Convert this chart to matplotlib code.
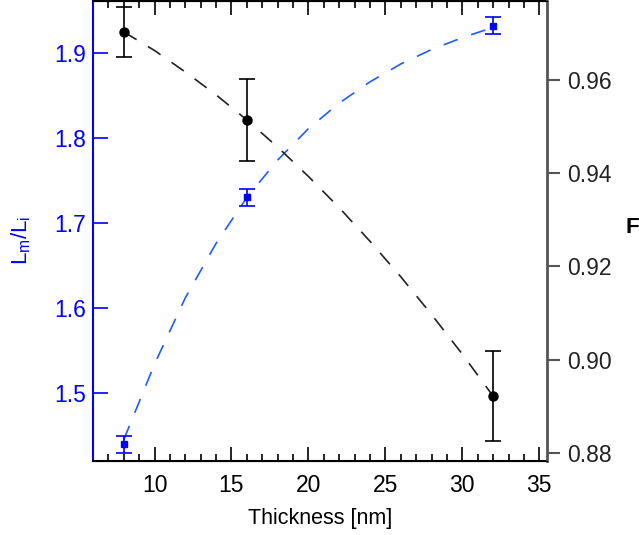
import matplotlib
matplotlib.use("Agg")
import matplotlib.pyplot as plt
from matplotlib.ticker import MultipleLocator

plt.rcParams["font.family"] = ["Liberation Sans", "DejaVu Sans"]
plt.rcParams["font.size"] = 16.5

# measured points
thickness = [8, 16, 32]
ratio = [1.44, 1.73, 1.932]
ratio_err = [0.010, 0.010, 0.010]
f_val = [0.9703, 0.9514, 0.8922]
f_err = [0.0053, 0.0088, 0.0096]

# dashed fit curves
fit_x = [8, 10, 12, 14, 16, 18, 20, 22, 24, 26, 28, 30, 32]
ratio_fit = [1.445, 1.534, 1.612, 1.676, 1.730, 1.774, 1.811, 1.841,
             1.866, 1.887, 1.904, 1.918, 1.930]
f_fit = [0.9703, 0.9663, 0.9617, 0.9568, 0.9514, 0.9456, 0.9393, 0.9326,
         0.9254, 0.9178, 0.9097, 0.9012, 0.8922]

blue_axis = "#0000ff"
blue_line = "#1f5cff"

fig = plt.figure(figsize=(6.39, 5.35), dpi=100)
ax = fig.add_axes([0.1455, 0.1383, 0.7105, 0.8597])
ax2 = ax.twinx()

ax.plot(fit_x, ratio_fit, color=blue_line, lw=1.2, dashes=(9, 8.5))
ax.errorbar(thickness, ratio, yerr=ratio_err, fmt="s", color=blue_axis,
            ms=4, capsize=6, elinewidth=1.2, capthick=1.2)

ax2.plot(fit_x, f_fit, color="#222222", lw=1.2, dashes=(9, 8))
ax2.errorbar(thickness, f_val, yerr=f_err, fmt="o", color="black",
             ms=6.5, capsize=6, elinewidth=1.2, capthick=1.2)

ax.set_xlim(6, 35.5)
ax.set_ylim(1.42, 1.961)
ax2.set_ylim(0.8783, 0.9769)

ax.xaxis.set_major_locator(MultipleLocator(5))
ax.xaxis.set_minor_locator(MultipleLocator(1))
ax.set_yticks([1.5, 1.6, 1.7, 1.8, 1.9])
ax2.set_yticks([0.88, 0.90, 0.92, 0.94, 0.96])
ax2.set_yticklabels(["0.88", "0.90", "0.92", "0.94", "0.96"])

ax.tick_params(axis="x", which="both", direction="in", top=True, pad=9)
ax.tick_params(axis="x", which="major", length=10, width=1.2)
ax.tick_params(axis="x", which="minor", length=5, width=1.2)
ax.tick_params(axis="y", direction="in", length=11, width=1.2,
               colors=blue_axis, pad=5)
ax2.tick_params(axis="y", direction="out", length=9.5, width=1.5,
                color="#555555", labelcolor="#222222", pad=5)

ax.spines["left"].set_color(blue_axis)
ax.spines["left"].set_linewidth(1.5)
ax.spines["bottom"].set_linewidth(1.5)
ax.spines["top"].set_linewidth(1.5)
ax2.spines["left"].set_visible(False)
ax2.spines["right"].set_color("#555555")
ax2.spines["right"].set_linewidth(2)
ax.spines["right"].set_visible(False)

ax.set_xlabel("Thickness [nm]", fontsize=15.5, labelpad=8)
ax.set_ylabel(r"L$_\mathregular{m}$/L$_\mathregular{i}$", color=blue_axis,
              fontsize=16)
ax.yaxis.set_label_coords(-0.132, 0.48)
ax2.set_ylabel("F", fontweight="bold", fontsize=16, rotation=0,
               va="center", ha="center")
ax2.yaxis.set_label_coords(1.187, 0.507)

fig.savefig("out.png", dpi=100)
